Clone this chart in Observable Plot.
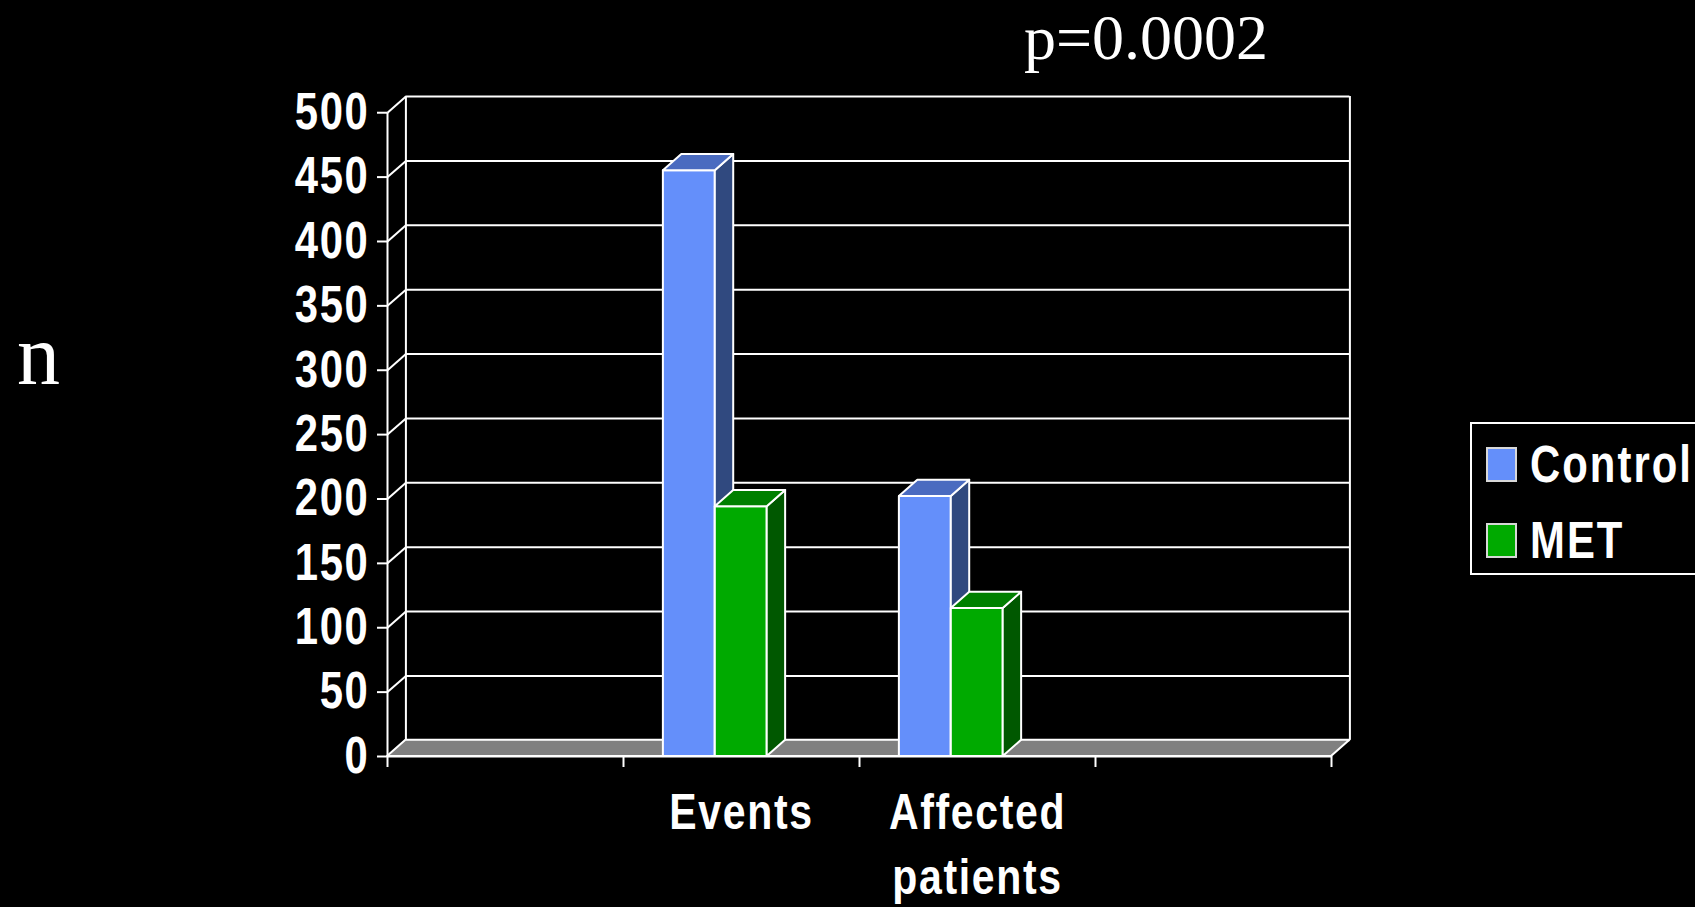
<!DOCTYPE html>
<html>
<head>
<meta charset="utf-8">
<script src="https://cdn.jsdelivr.net/npm/d3@7"></script>
<script src="https://cdn.jsdelivr.net/npm/@observablehq/plot@0.6"></script>
<style>
  html, body { margin: 0; padding: 0; background: #000; overflow: hidden; }
  #wrap { position: relative; width: 1695px; height: 907px; }
  #chart svg { display: block; background: #000; }
  #chart svg text { letter-spacing: 2px; }
  .serif { position: absolute; color: #fff; font-family: "Liberation Serif", "Times New Roman", serif; line-height: 1; white-space: nowrap; }
  .legend { position: absolute; left: 1470px; top: 422px; width: 280px; height: 149px; border: 2px solid #fff; }
  .legend .sw { position: absolute; left: 14px; width: 27px; height: 31px; border: 2px solid #d8d8d8; }
  .legend .lab { position: absolute; left: 58px; color: #fff; font: bold 51px "Liberation Sans", Arial, sans-serif; line-height: 1;
    letter-spacing: 2.5px; white-space: nowrap; transform: scaleX(0.82); transform-origin: 0 0; }
</style>
</head>
<body>
<div id="wrap">
  <div id="chart"></div>
  <div class="serif" style="left:17px; top:312px; font-size:86px;">n</div>
  <div class="serif" style="left:1024px; top:6px; font-size:64px;">p=0.0002</div>
  <div class="legend" id="legend"></div>
</div>
<script>
// values
var categories = ['Events', 'Affected patients'];
var series = ['Control', 'MET'];
var control = [455, 202];
var met = [194, 115];
var yTicks = [0, 50, 100, 150, 200, 250, 300, 350, 400, 450, 500];
var xTicks = [0, 1, 2, 3, 4];

var FONT = '"Liberation Sans", Arial, sans-serif';
var NARROW = 0.82;           // no Arial Narrow here, so squeeze the bold sans
var DX = 0.078, DY = 12.6;   // 3d depth (x in band units, y in value units)
var OFF = 0.169, BW = 0.22;  // bar offset / width inside a band
var colors = {
  Control: { front: '#648ffa', side: '#30497f', top: '#4a6bc0' },
  MET: { front: '#00aa00', side: '#005800', top: '#008000' },
};

var rows = [];
categories.forEach(function (c, i) {
  [control, met].forEach(function (vals, j) {
    var x1 = i + 1 + OFF + j * BW;
    rows.push({ category: c, series: series[j], value: vals[i], x1: x1, x2: x1 + BW, id: c + j });
  });
});

function bar3d(s) {
  var rs = rows.filter(function (d) { return d.series === s; });
  var side = [], top = [];
  rs.forEach(function (d) {
    side.push({ id: d.id, x: d.x2, y1: 0, y2: d.value });
    side.push({ id: d.id, x: d.x2 + DX, y1: DY, y2: d.value + DY });
    top.push({ id: d.id, y: d.value, x1: d.x1, x2: d.x2 });
    top.push({ id: d.id, y: d.value + DY, x1: d.x1 + DX, x2: d.x2 + DX });
  });
  var st = { stroke: 'white', strokeWidth: 2, strokeLinejoin: 'round' };
  return [
    Plot.rect(rs, Object.assign({ x1: 'x1', x2: 'x2', y1: 0, y2: 'value', fill: colors[s].front }, st)),
    Plot.areaY(side, Object.assign({ x: 'x', y1: 'y1', y2: 'y2', z: 'id', fill: colors[s].side }, st)),
    Plot.areaX(top, Object.assign({ y: 'y', x1: 'x1', x2: 'x2', z: 'id', fill: colors[s].top }, st)),
  ];
}

var floor = [{ y: 0, x1: 0, x2: 4 }, { y: DY, x1: DX, x2: 4 + DX }];

var chart = Plot.plot({
  width: 1695,
  height: 907,
  marginLeft: 387,
  marginRight: 364,
  marginTop: 96,
  marginBottom: 151,
  x: { domain: [0, 4] },
  y: { domain: [0, 500 + DY] },
  style: { background: 'black', color: 'white' },
  marks: [
    // back wall
    Plot.ruleY(yTicks, { y: function (d) { return d + DY; }, x1: DX, x2: 4 + DX, stroke: 'white', strokeWidth: 2 }),
    Plot.ruleX([DX, 4 + DX], { y1: DY, y2: 500 + DY, stroke: 'white', strokeWidth: 2 }),
    // side wall diagonals
    Plot.link(yTicks, { x1: 0, y1: function (d) { return d; }, x2: DX, y2: function (d) { return d + DY; }, stroke: 'white', strokeWidth: 2 }),
    // floor
    Plot.areaX(floor, { y: 'y', x1: 'x1', x2: 'x2', fill: '#808080', stroke: 'white', strokeWidth: 2 }),
    Plot.ruleX([0], { y1: 0, y2: 500, stroke: 'white', strokeWidth: 2 }),
    Plot.ruleY([0], { x1: 0, x2: 4, stroke: 'white', strokeWidth: 2 }),
    Plot.axisY(yTicks, { anchor: 'left', tickSize: 10, tickPadding: 8, strokeWidth: 2, label: null,
      fontSize: 51, fontWeight: 'bold', fontFamily: FONT }),
    Plot.axisX(xTicks, { anchor: 'bottom', tickSize: 11, strokeWidth: 2, label: null, tickFormat: function () { return ''; } }),
    ...bar3d('Control'),
    ...bar3d('MET'),
    Plot.text(categories, { x: function (d, i) { return i + 1.5; }, y: 0, dy: 26, lineAnchor: 'top', lineHeight: 1.31,
      text: function (d) { return d.replace(' ', '\n'); }, fill: 'white', fontSize: 50, fontWeight: 'bold', fontFamily: FONT }),
  ],
});

// squeeze every svg text horizontally around its own anchor
chart.querySelectorAll('text').forEach(function (t) {
  var tr = t.getAttribute('transform') || '';
  t.setAttribute('transform', tr + ' scale(' + NARROW + ',1)');
});
document.getElementById('chart').appendChild(chart);

// legend
var legend = document.getElementById('legend');
series.forEach(function (s, i) {
  var sw = document.createElement('div');
  sw.className = 'sw';
  sw.style.top = (23 + i * 76) + 'px';
  sw.style.background = colors[s].front;
  legend.appendChild(sw);
  var lab = document.createElement('div');
  lab.className = 'lab';
  lab.style.top = (15 + i * 76) + 'px';
  lab.textContent = s;
  legend.appendChild(lab);
});
</script>
</body>
</html>
